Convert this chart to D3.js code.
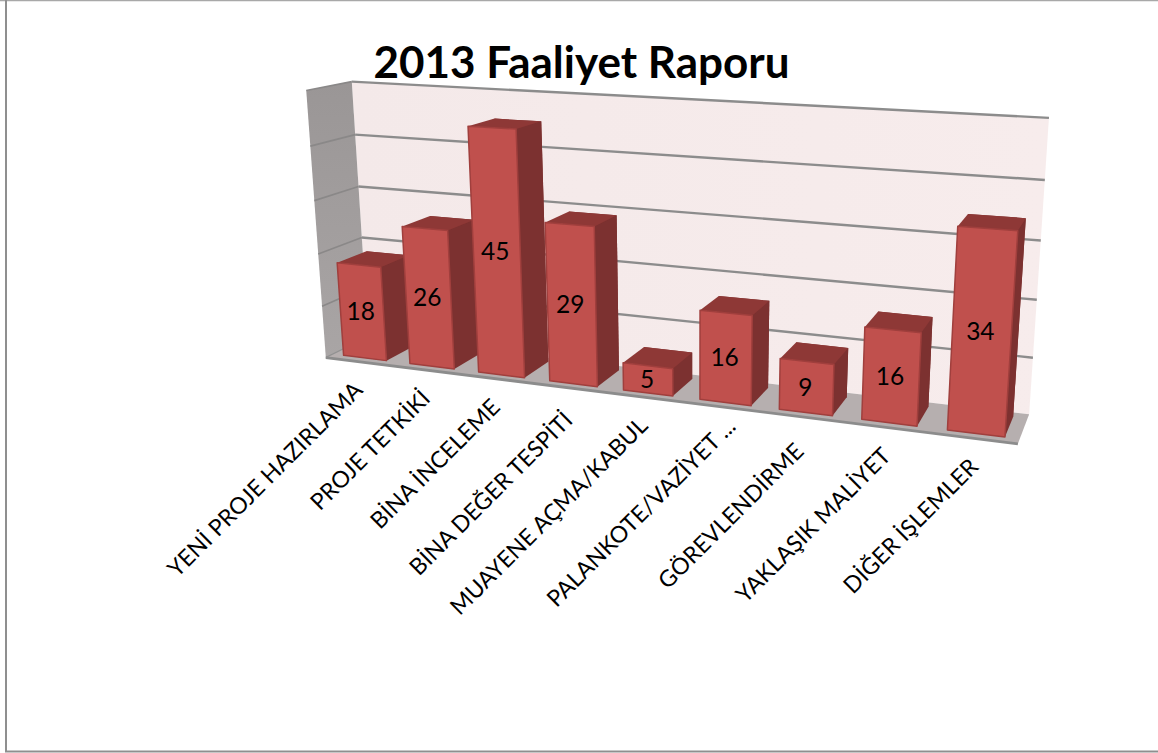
<!DOCTYPE html>
<html><head><meta charset="utf-8">
<script src="https://cdn.jsdelivr.net/npm/d3@7/dist/d3.min.js"></script>
<style>html,body{margin:0;padding:0;background:#fff}svg{display:block}</style></head>
<body><svg id="c" width="1158" height="753"></svg>
<script>
const categories=["YENİ PROJE HAZIRLAMA","PROJE TETKİKİ","BİNA İNCELEME","BİNA DEĞER TESPİTİ","MUAYENE AÇMA/KABUL","PALANKOTE/VAZİYET ...","GÖREVLENDİRME","YAKLAŞIK MALİYET","DİĞER İŞLEMLER"];
const values=[18,26,45,29,5,16,9,16,34];
const valueMax=50;
const title="2013 Faaliyet Raporu";

// camera calibration: normalised box corner -> screen corner
const calib=[[0,0,0,325,356],[0,1,0,307,91],[0,0,1,369,338],[0,1,1,351,81],[1,0,1,1029,413],[1,1,1,1049,118],[1,0,0,1018,445]];
function solve(A,b){const n=b.length,M=A.map((r,i)=>[...r,b[i]]);
 for(let i=0;i<n;i++){let p=i;for(let r=i+1;r<n;r++)if(Math.abs(M[r][i])>Math.abs(M[p][i]))p=r;[M[i],M[p]]=[M[p],M[i]];
  for(let r=0;r<n;r++)if(r!==i){const f=M[r][i]/M[i][i];for(let c=i;c<=n;c++)M[r][c]-=f*M[i][c];}}
 return M.map((r,i)=>r[n]/r[i]);}
const rows=[],rhs=[];
calib.forEach(([u,v,w,x,y])=>{
 rows.push([u,v,w,1,0,0,0,0,-x*u,-x*v,-x*w]);rhs.push(x);
 rows.push([0,0,0,0,u,v,w,1,-y*u,-y*v,-y*w]);rhs.push(y);});
const AtA=d3.range(11).map(i=>d3.range(11).map(j=>d3.sum(rows,r=>r[i]*r[j])));
const Atb=d3.range(11).map(i=>d3.sum(rows,(r,k)=>r[i]*rhs[k]));
const H=solve(AtA,Atb);
function proj(u,v,w){const d=H[8]*u+H[9]*v+H[10]*w+1;
 return [(H[0]*u+H[1]*v+H[2]*w+H[3])/d,(H[4]*u+H[5]*v+H[6]*w+H[7])/d];}

const xScale=d3.scaleBand().domain(categories).range([0,1]).paddingInner(0.35).paddingOuter(0.165);
const yScale=d3.scaleLinear().domain([0,valueMax]).range([0,1]);
const wFront=0.16,wBack=0.84;
const svg=d3.select("#c");
const poly=(pts,fill,stroke,sw)=>svg.append("polygon").attr("points",pts.map(p=>p.map(n=>n.toFixed(2)).join(",")).join(" "))
 .attr("fill",fill).attr("stroke",stroke||"none").attr("stroke-width",sw||0).attr("stroke-linejoin","round");
const line=(a,b,c,sw)=>svg.append("line").attr("x1",a[0]).attr("y1",a[1]).attr("x2",b[0]).attr("y2",b[1]).attr("stroke",c).attr("stroke-width",sw);

// frame
svg.append("line").attr("x1",0).attr("y1",0.5).attr("x2",1158).attr("y2",0.5).attr("stroke","#a8a8a8").attr("stroke-width",1.5);
svg.append("line").attr("x1",6).attr("y1",0).attr("x2",6).attr("y2",752).attr("stroke","#8f8f8f").attr("stroke-width",2);
svg.append("line").attr("x1",5).attr("y1",751.5).attr("x2",1158).attr("y2",751.5).attr("stroke","#8f8f8f").attr("stroke-width",2);

// walls and floor
const defs=svg.append("defs");
const g=defs.append("linearGradient").attr("id","wall").attr("x1","0").attr("y1","0").attr("x2","1").attr("y2","0");
g.append("stop").attr("offset","0").attr("stop-color","#f4e9e9");
g.append("stop").attr("offset","1").attr("stop-color","#f7ecec");
poly([proj(0,0,1),proj(0,1,1),proj(1,1,1),proj(1,0,1)],"url(#wall)");
const gl=defs.append("linearGradient").attr("id","side").attr("x1","0").attr("y1","0").attr("x2","0").attr("y2","1");
gl.append("stop").attr("offset","0").attr("stop-color","#9a9696");
gl.append("stop").attr("offset","1").attr("stop-color","#a9a5a5");
poly([proj(0,0,0),proj(0,1,0),proj(0,1,1),proj(0,0,1)],"url(#side)");
poly([proj(0,0,0),proj(0,0,1),proj(1,0,1),proj(1,0,0)],"#b6afaf");

// gridlines
yScale.ticks(5).forEach(t=>{const v=yScale(t);
 if(t>0){line(proj(0,v,1),proj(1,v,1),"#8c8c8c",2.4);line(proj(0,v,0),proj(0,v,1),"#8a8888",1.6);}
});
line(proj(0,0,0),proj(1,0,0),"#8c8c8c",2.8);
line(proj(0,0,0),proj(0,0,1),"#8e8e8e",1.2);

// bars
categories.forEach((c,i)=>{
 const u0=xScale(c),u1=u0+xScale.bandwidth(),v=yScale(values[i]);
 poly([proj(u0,0,wBack),proj(u0,v,wBack),proj(u1,v,wBack),proj(u1,0,wBack)],"#7e3230");
 poly([proj(u1,0,wFront),proj(u1,v,wFront),proj(u1,v,wBack),proj(u1,0,wBack)],"#7c3130");
 poly([proj(u0,v,wFront),proj(u0,v,wBack),proj(u1,v,wBack),proj(u1,v,wFront)],"#8e3836");
 poly([proj(u0,0,wFront),proj(u0,v,wFront),proj(u1,v,wFront),proj(u1,0,wFront)],"#c0504d","#a03f3d",1.5);
 const a=proj(u0,v,wFront),b=proj(u1,0,wFront);
 svg.append("text").attr("x",(a[0]+b[0])/2-1).attr("y",(a[1]+b[1])/2+8.5).attr("text-anchor","middle")
  .attr("font-family","Lato").attr("font-size",24.5).attr("fill","#000").text(values[i]);
});

// category labels (layout nudges for the two labels the source chart placed differently)
const labelNudge=new Map([["PALANKOTE/VAZİYET ...",[10,-9]],["GÖREVLENDİRME",[-3,6]],["BİNA DEĞER TESPİTİ",[0,4]]]);
categories.forEach(c=>{
 const p=proj(xScale(c)+xScale.bandwidth()/2,0,0);
 const n=labelNudge.get(c)||[0,0];
 svg.append("text").attr("transform",`translate(${p[0]+6+n[0]},${p[1]+30+n[1]}) rotate(-45)`)
  .attr("text-anchor","end").attr("font-family","Lato").attr("font-size",23).attr("fill","#000").text(c);
});

svg.append("text").attr("x",581.5).attr("y",78).attr("text-anchor","middle").attr("font-family","Lato").attr("font-weight",700)
 .attr("font-size",44).attr("fill","#000").text(title);
</script></body></html>
